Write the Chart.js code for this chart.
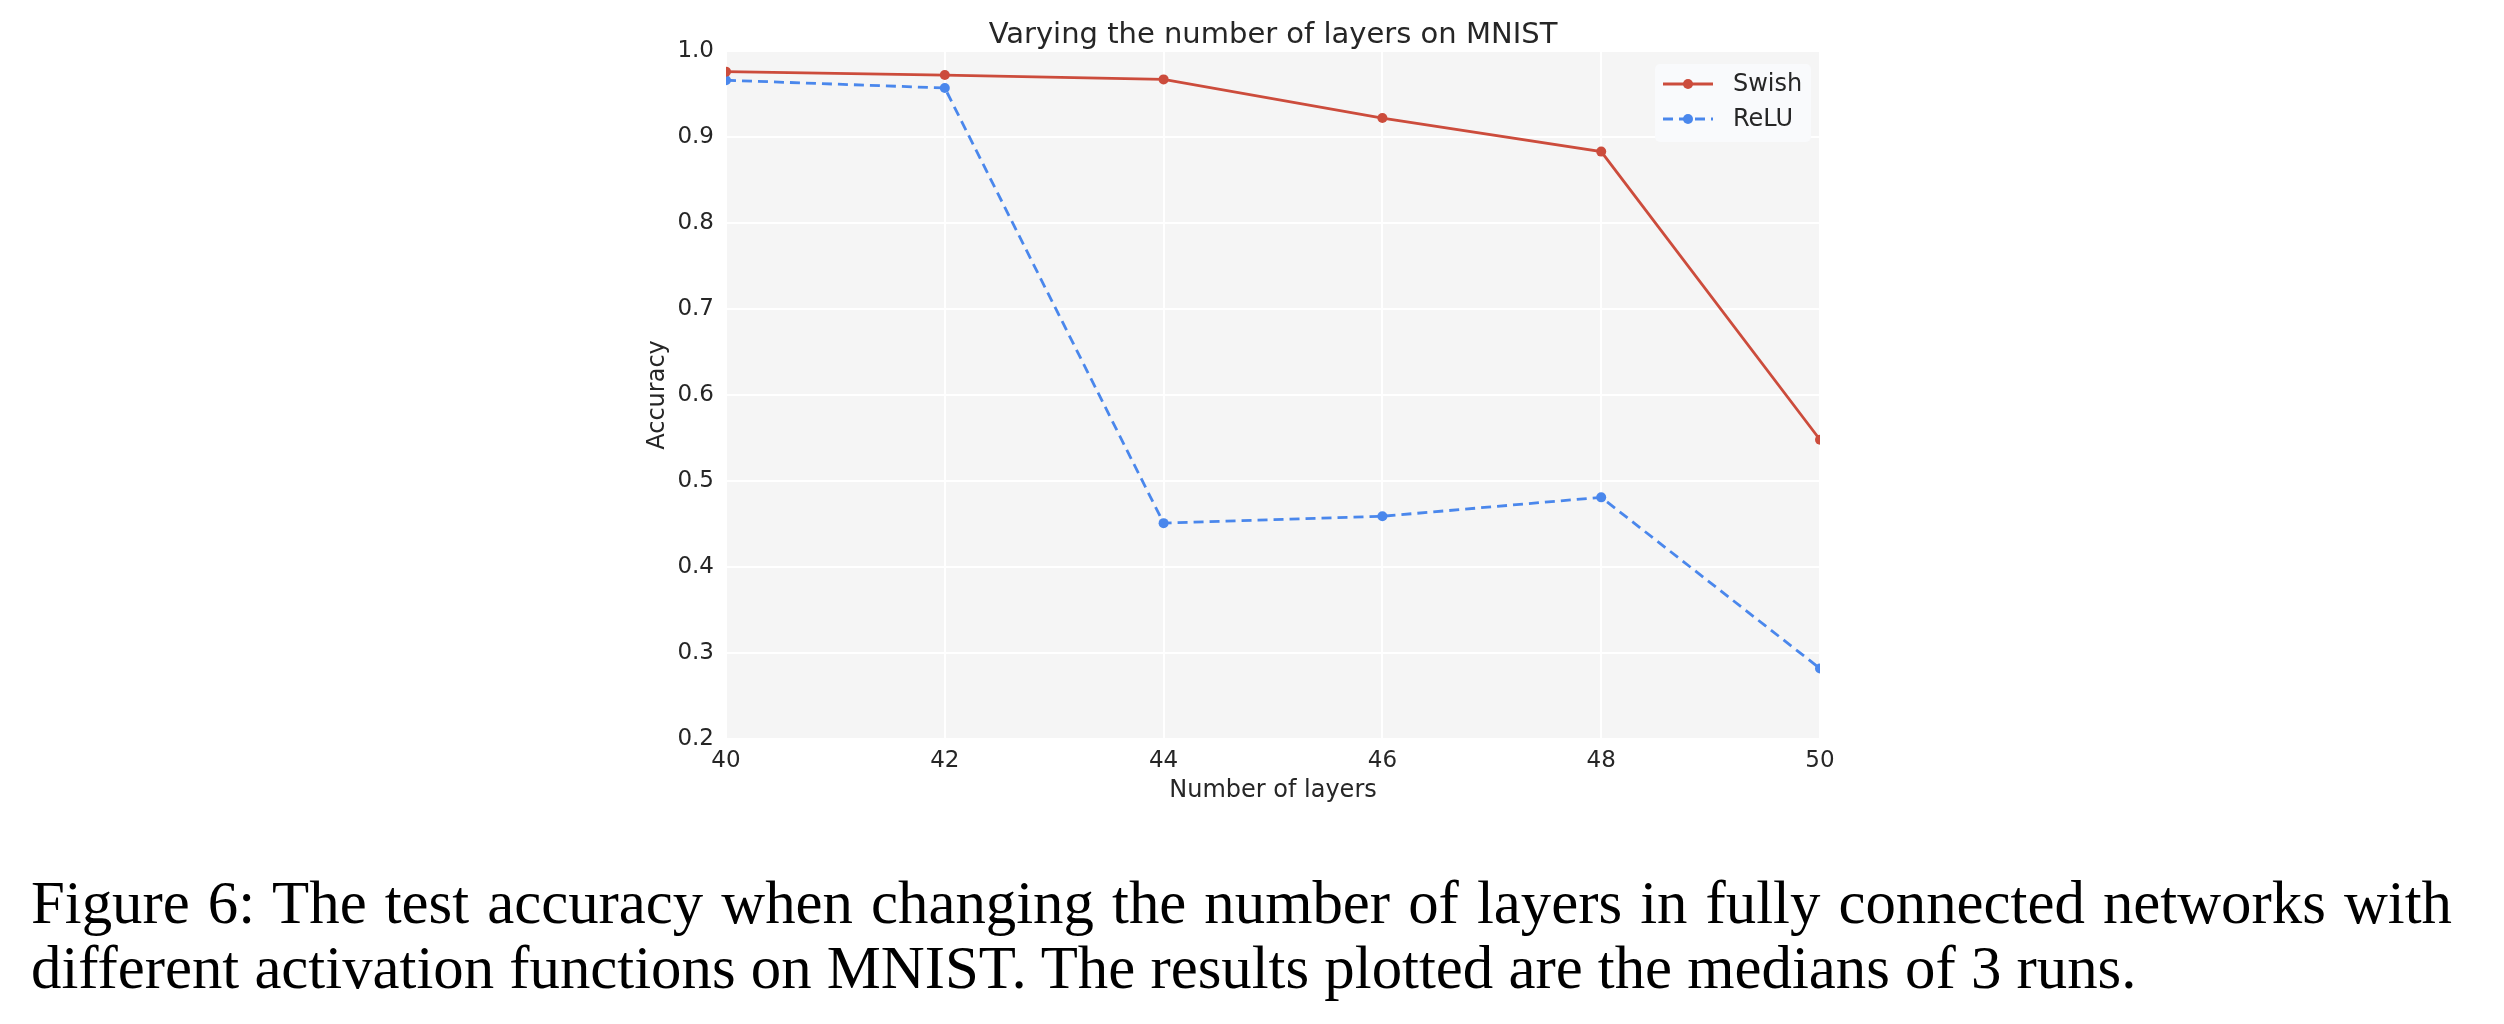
<!DOCTYPE html>
<html>
<head>
<meta charset="utf-8">
<script src="https://cdn.jsdelivr.net/npm/chart.js@4.4.1/dist/chart.umd.min.js"></script>
<style>
  body { margin: 0; background: #fff; }
  #wrap { position: relative; width: 2504px; height: 1024px; }
  #chart { position: absolute; left: 0; top: 0; }
  .caption {
    position: absolute;
    left: 31px;
    font-family: "Liberation Serif", "Times New Roman", serif;
    font-size: 60.8px;
    line-height: 65px;
    color: #000;
    white-space: nowrap;
  }
  #cap1 { top: 870px; }
  #cap2 { top: 935px; }
</style>
</head>
<body>
<div id="wrap">
  <canvas id="chart" width="2504" height="830"></canvas>
  <span class="caption" id="cap1">Figure 6: The test accuracy when changing the number of layers in fully connected networks with</span>
  <span class="caption" id="cap2">different activation functions on MNIST. The results plotted are the medians of 3 runs.</span>
</div>
<script>
  // data
  const layers = [40, 42, 44, 46, 48, 50];
  const swish = [0.976, 0.972, 0.967, 0.922, 0.883, 0.548];
  const relu = [0.966, 0.957, 0.451, 0.459, 0.481, 0.282];
  const yTicks = [0.2, 0.3, 0.4, 0.5, 0.6, 0.7, 0.8, 0.9, 1.0];

  const red = "#cc4c3c";
  const blue = "#4a87ec";
  const textColor = "#262626";
  const font = "DejaVu Sans";

  function toPoints(ys) {
    return layers.map((x, i) => ({ x: x, y: ys[i] }));
  }

  // first caption line is justified to the text width, like LaTeX does
  function justifyCaption() {
    const line = document.getElementById("cap1");
    const gaps = line.textContent.split(" ").length - 1;
    const extra = 2421 - line.getBoundingClientRect().width;
    line.style.wordSpacing = extra / gaps + "px";
  }

  // grey plot background
  const plotBg = {
    id: "plotBg",
    beforeDraw(chart) {
      const { ctx, chartArea: a } = chart;
      ctx.save();
      ctx.fillStyle = "#f5f5f5";
      ctx.fillRect(a.left, a.top, a.right - a.left, a.bottom - a.top);
      ctx.restore();
    },
  };

  // legend drawn inside the plot, top right (like matplotlib)
  const innerLegend = {
    id: "innerLegend",
    afterDraw(chart) {
      const { ctx, chartArea: a } = chart;
      const w = 156, h = 78;
      const x0 = a.right - 9 - w;
      const y0 = a.top + 13;
      ctx.save();
      ctx.fillStyle = "#f9fafc";
      ctx.beginPath();
      ctx.roundRect(x0, y0, w, h, 5);
      ctx.fill();
      chart.data.datasets.forEach((ds, i) => {
        const cy = y0 + 20 + i * 35;
        ctx.strokeStyle = ds.borderColor;
        ctx.lineWidth = ds.borderWidth;
        ctx.setLineDash(ds.borderDash || []);
        ctx.beginPath();
        ctx.moveTo(x0 + 8, cy);
        ctx.lineTo(x0 + 58, cy);
        ctx.stroke();
        ctx.setLineDash([]);
        ctx.fillStyle = ds.borderColor;
        ctx.beginPath();
        ctx.arc(x0 + 33, cy, 5, 0, Math.PI * 2);
        ctx.fill();
        ctx.fillStyle = textColor;
        ctx.font = "24px '" + font + "'";
        ctx.textBaseline = "middle";
        ctx.fillText(ds.label, x0 + 78, cy + 1);
      });
      ctx.restore();
    },
  };

  window.onload = function () {
    justifyCaption();
    const ctx = document.getElementById("chart").getContext("2d");
    new Chart(ctx, {
      type: "line",
      data: {
        datasets: [
          {
            label: "Swish",
            data: toPoints(swish),
            borderColor: red,
            backgroundColor: red,
            borderWidth: 2.8,
            pointRadius: 5,
            pointBorderWidth: 0,
            pointBackgroundColor: red,
            tension: 0,
            fill: false,
          },
          {
            label: "ReLU",
            data: toPoints(relu),
            borderColor: blue,
            backgroundColor: blue,
            borderWidth: 2.8,
            borderDash: [10, 6],
            pointRadius: 5,
            pointBorderWidth: 0,
            pointBackgroundColor: blue,
            tension: 0,
            fill: false,
          },
        ],
      },
      options: {
        responsive: false,
        animation: false,
        devicePixelRatio: 1,
        layout: {
          padding: { left: 626, right: 684, top: 0, bottom: 0 },
        },
        plugins: {
          legend: { display: false },
          tooltip: { enabled: false },
          title: {
            display: true,
            text: "Varying the number of layers on MNIST",
            color: textColor,
            fullSize: false,
            font: { family: font, size: 29, weight: "normal" },
            padding: { top: 18, bottom: -1.8 },
          },
        },
        scales: {
          x: {
            type: "linear",
            min: layers[0],
            max: layers[layers.length - 1],
            afterFit: (s) => { s.height = 91; },
            grid: { color: "#ffffff", lineWidth: 2, drawTicks: false },
            border: { display: false },
            ticks: {
              stepSize: 2,
              color: textColor,
              padding: 8,
              font: { family: font, size: 23 },
            },
            title: {
              display: true,
              text: "Number of layers",
              color: textColor,
              font: { family: font, size: 24 },
              padding: { top: 0, bottom: 25 },
            },
          },
          y: {
            min: yTicks[0],
            max: yTicks[yTicks.length - 1],
            afterFit: (s) => { s.width = 100; },
            afterBuildTicks: (s) => { s.ticks = yTicks.map((v) => ({ value: v })); },
            grid: { color: "#ffffff", lineWidth: 2, drawTicks: false },
            border: { display: false },
            ticks: {
              color: textColor,
              padding: 12,
              font: { family: font, size: 23 },
              callback: (v) => Number(v).toFixed(1),
            },
            title: {
              display: true,
              text: "Accuracy",
              color: textColor,
              font: { family: font, size: 24 },
              padding: { top: 17, bottom: 0 },
            },
          },
        },
      },
      plugins: [plotBg, innerLegend],
    });
  };
</script>
</body>
</html>
